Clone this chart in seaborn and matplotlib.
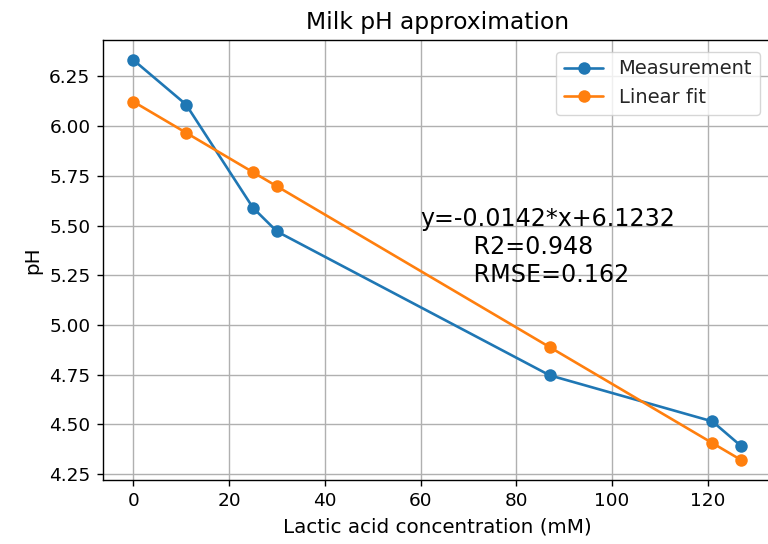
import matplotlib
matplotlib.use("Agg")
import matplotlib.pyplot as plt
import seaborn as sns
import pandas as pd

# Lactic acid concentration (mM) and measured milk pH
lactic_mm = [0, 11, 25, 30, 87, 121, 127]
ph_measured = [6.333, 6.109, 5.589, 5.470, 4.746, 4.514, 4.390]

# Linear regression result
slope = -0.0142
intercept = 6.1232
r2 = 0.948
rmse = 0.162
ph_fitted = [6.1232, 5.9670, 5.7682, 5.6972, 4.8878, 4.4050, 4.3198]

sns.set_style("ticks")
plt.rcParams["font.family"] = ["DejaVu Sans"]

df = pd.DataFrame({
    "x": lactic_mm * 2,
    "y": ph_measured + ph_fitted,
    "series": ["Measurement"] * len(lactic_mm) + ["Linear fit"] * len(lactic_mm),
})

fig = plt.figure(figsize=(7.68, 5.44), dpi=100)
ax = fig.add_axes([103 / 768, 1 - 480 / 544, (771.5 - 103) / 768, (480 - 40) / 544])

sns.lineplot(data=df, x="x", y="y", hue="series", palette=["#1f77b4", "#ff7f0e"],
             marker="o", markersize=9, markeredgewidth=0, linewidth=1.9,
             sort=False, ax=ax)

ax.grid(True, color="#b0b0b0", linewidth=1.0)
ax.set_axisbelow(True)
ax.set_xticks([0, 20, 40, 60, 80, 100, 120])
ax.set_yticks([4.25, 4.50, 4.75, 5.00, 5.25, 5.50, 5.75, 6.00, 6.25])
ax.set_yticklabels([f"{v:.2f}" for v in ax.get_yticks()])
ax.tick_params(labelsize=13.3, length=4.5, width=1.0, colors="black", labelcolor="black", pad=4.5)
for s in ax.spines.values():
    s.set_linewidth(1.0)
    s.set_color("black")

ax.set_xlabel("Lactic acid concentration (mM)", fontsize=14.3, color="black", labelpad=5)
ax.set_ylabel("pH", fontsize=14.3, color="black", labelpad=5)
ax.set_title("Milk pH approximation", fontsize=16.8, color="black", pad=8)

leg = ax.legend(loc="upper right", fontsize=14, frameon=True, framealpha=0.8,
                edgecolor="#cccccc", fancybox=True, handlelength=2.0,
                borderaxespad=0.6)
leg.set_title(None)

ax.text(60, 5.591, f"y={slope}*x+{intercept}\n       R2={r2}\n       RMSE={rmse}",
        fontsize=17.1, color="black", va="top", linespacing=1.2)

fig.savefig("out.png", dpi=100)
